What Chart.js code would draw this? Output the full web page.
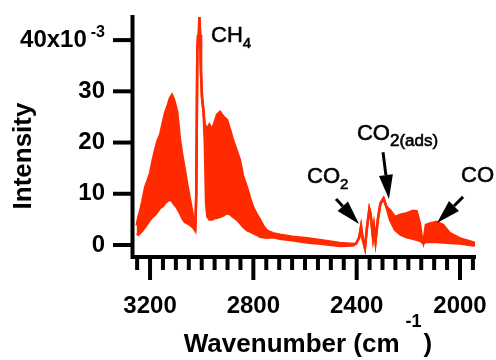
<!DOCTYPE html>
<html>
<head>
<meta charset="utf-8">
<script src="https://cdn.jsdelivr.net/npm/chart.js@4/dist/chart.umd.min.js"></script>
<style>
  html, body { margin: 0; padding: 0; background: #fff; }
  canvas { display: block; }
</style>
</head>
<body>
<canvas id="spectrum" width="496" height="360"></canvas>
<script>
// wavenumber in cm-1, intensity in units of 1e-3
// the gas phase bands are dense, so the trace is kept as an upper and a lower edge
const wavenumber = [3252, 3245, 3239, 3230, 3219, 3210, 3200, 3190, 3181, 3170, 3161, 3150, 3142, 3130, 3123, 3115, 3108, 3100, 3095, 3084, 3075, 3065, 3055, 3045, 3035, 3030, 3025,
  3021, 3017, 3014, 3012, 3009, 3006, 3003, 2999, 2993, 2988, 2983, 2978, 2970, 2960, 2950, 2940, 2929, 2915, 2902, 2890, 2879, 2865, 2852, 2840, 2825, 2812, 2801, 2787, 2774, 2760, 2747,
  2724, 2697, 2650, 2592, 2530, 2465, 2414, 2402, 2390, 2383, 2376, 2368, 2360, 2351, 2346, 2337, 2333, 2327, 2318, 2308, 2296, 2285,
  2271, 2252, 2230, 2206, 2182, 2168, 2155, 2148, 2142, 2132, 2116, 2090, 2065, 2039, 2000, 1973, 1948, 1942];
const upperEdge = [3.8, 5.5, 6.5, 8.5, 11.3, 12.5, 14.0, 16.5, 18.5, 20.5, 21.5, 24.0, 25.8, 27.5, 28.7, 29.3, 28.5, 27.0, 26.0, 20.5, 17.5, 14.6, 11.5, 8.8, 6.0, 4.5, 2.8,
  10.0, 38.0, 41.0, 39.5, 44.5, 41.0, 34.0, 29.0, 26.0, 23.5, 23.0, 22.8, 23.5, 22.5, 24.0, 25.5, 26.0, 25.0, 24.4, 22.5, 20.5, 18.5, 16.6, 13.5, 11.3, 9.0, 7.4, 6.0, 4.9, 3.6, 2.8,
  2.3, 2.0, 1.6, 1.3, 0.9, 0.4, 0.2, 0.3, 1.5, 3.6, 1.0, -0.6, 3.5, 7.0, 6.0, 1.6, 3.5, 0.7, 5.0, 8.1, 9.1, 7.5,
  6.8, 5.5, 5.9, 6.2, 6.7, 6.6, 4.2, 1.6, 0.5, 3.9, 4.2, 4.5, 3.9, 2.3, 1.3, 0.9, 0.5, 0.4];
const lowerEdge = [2.2, 2.0, 2.3, 2.8, 3.5, 4.2, 4.9, 5.5, 5.9, 6.6, 7.2, 7.6, 8.2, 8.7, 8.8, 8.6, 8.0, 7.6, 7.2, 6.2, 5.2, 4.5, 4.2, 3.9, 3.5, 3.2, 2.8,
  10.0, 38.0, 41.0, 39.5, 44.5, 41.0, 34.0, 29.0, 26.0, 20.0, 8.0, 5.5, 5.0, 5.0, 5.2, 5.3, 5.5, 5.8, 6.2, 6.0, 5.5, 5.0, 4.3, 3.6, 2.9, 2.6, 2.3, 2.0, 1.6, 1.5, 1.4,
  1.5, 1.2, 0.9, 0.5, 0.2, -0.2, -0.1, 0.3, 1.5, 3.6, 1.0, -0.6, 3.5, 7.0, 6.0, 1.6, 3.5, 0.7, 5.0, 8.1, 9.1, 7.5,
  4.9, 3.0, 2.0, 1.5, 1.2, 1.0, 0.8, 0.6, 0.3, 0.6, 0.6, 0.6, 0.5, 0.4, 0.3, 0.1, -0.1, 0.0];

const yTicks = [0, 10, 20, 30, 40];
const xTickLabels = [3200, 2800, 2400, 2000];

// peak names: [main text, subscript, wavenumber, intensity] of the text baseline start
const peakNames = [
  ["CH", "4", 2964, 39.6],
  ["CO", "2", 2592, 12.1],
  ["CO", "2(ads)", 2399, 20.5],
  ["CO", "", 1996, 12.3]
];
// arrows: from [wavenumber, intensity] to [wavenumber, intensity]
const peakArrows = [
  [2480, 9.0, 2391, 4.1],
  [2298, 18.1, 2275, 9.0],
  [1988, 9.4, 2089, 4.3]
];

const FONT = '"Liberation Sans", Arial, sans-serif';
const RED = "#ff2a00";

function drawArrow(ctx, x1, y1, x2, y2) {
  const ang = Math.atan2(y2 - y1, x2 - x1);
  const headLen = 24, headW = 7;
  const bx = x2 - headLen * Math.cos(ang), by = y2 - headLen * Math.sin(ang);
  ctx.lineWidth = 3;
  ctx.beginPath();
  ctx.moveTo(x1, y1);
  ctx.lineTo(bx, by);
  ctx.stroke();
  ctx.beginPath();
  ctx.moveTo(x2, y2);
  ctx.lineTo(bx + headW * Math.sin(ang), by - headW * Math.cos(ang));
  ctx.lineTo(bx - headW * Math.sin(ang), by + headW * Math.cos(ang));
  ctx.closePath();
  ctx.fill();
}

// slightly heavier text than the plain regular face
function heavyText(ctx, text, x, y) {
  ctx.lineWidth = 0.6;
  ctx.fillText(text, x, y);
  ctx.strokeText(text, x, y);
}

function noPadding(s) {
  s.paddingTop = 0;
  s.paddingBottom = 0;
  s.paddingLeft = 0;
  s.paddingRight = 0;
}

const igorAxes = {
  id: "igorAxes",
  afterDraw(chart) {
    const { ctx, chartArea: a, scales: { x, y } } = chart;
    ctx.save();
    ctx.strokeStyle = "#000";
    ctx.fillStyle = "#000";
    ctx.lineCap = "butt";

    // axis lines
    ctx.lineWidth = 4;
    ctx.beginPath();
    ctx.moveTo(a.left - 0.5, a.top);
    ctx.lineTo(a.left - 0.5, a.bottom + 1);
    ctx.moveTo(a.left - 2.5, a.bottom - 1);
    ctx.lineTo(a.right, a.bottom - 1);
    ctx.stroke();

    // y ticks
    yTicks.forEach(v => {
      const py = y.getPixelForValue(v);
      ctx.beginPath();
      ctx.moveTo(a.left - 20, py);
      ctx.lineTo(a.left, py);
      ctx.stroke();
    });

    // x ticks, minor every 50, major at the labels
    for (let v = 1950; v <= 3250; v += 50) {
      const px = x.getPixelForValue(v);
      const len = xTickLabels.includes(v) ? 22 : 12;
      ctx.beginPath();
      ctx.moveTo(px, a.bottom);
      ctx.lineTo(px, a.bottom + len);
      ctx.stroke();
    }

    // top y label with exponent
    const ty = y.getPixelForValue(40);
    const rightEdge = a.left - 28;
    ctx.font = "bold 16px " + FONT;
    const supW = ctx.measureText("-3").width;
    ctx.textBaseline = "middle";
    ctx.textAlign = "left";
    ctx.fillText("-3", rightEdge - supW, ty - 8);
    ctx.font = "bold 24px " + FONT;
    ctx.textAlign = "right";
    ctx.fillText("40x10", rightEdge - supW - 4, ty);

    // axis titles
    ctx.textBaseline = "alphabetic";
    ctx.textAlign = "left";
    ctx.font = "bold 26px " + FONT;
    const mainW = ctx.measureText("Wavenumber (cm").width;
    const parW = ctx.measureText(")").width;
    ctx.font = "bold 18px " + FONT;
    const expW = ctx.measureText("-1").width;
    const total = mainW + expW + parW + 8;
    const tx = 308 - total / 2;
    const base = 352;
    ctx.font = "bold 26px " + FONT;
    ctx.fillText("Wavenumber (cm", tx, base);
    ctx.font = "bold 18px " + FONT;
    ctx.fillText("-1", tx + mainW + 6, base - 25);
    ctx.font = "bold 26px " + FONT;
    ctx.fillText(")", tx + mainW + expW + 8, base);

    ctx.save();
    ctx.translate(31, 156);
    ctx.rotate(-Math.PI / 2);
    ctx.textAlign = "center";
    ctx.font = "bold 26px " + FONT;
    ctx.fillText("Intensity", 0, 0);
    ctx.restore();

    // peak names
    peakNames.forEach(([main, sub, w, v]) => {
      const px = x.getPixelForValue(w), py = y.getPixelForValue(v);
      ctx.font = "22px " + FONT;
      heavyText(ctx, main, px, py);
      if (sub) {
        const mw = ctx.measureText(main).width;
        ctx.font = (sub.length > 1 ? "17px " : "15px ") + FONT;
        heavyText(ctx, sub, px + mw, py + 6);
      }
    });

    peakArrows.forEach(([w1, v1, w2, v2]) => {
      drawArrow(ctx, x.getPixelForValue(w1), y.getPixelForValue(v1), x.getPixelForValue(w2), y.getPixelForValue(v2));
    });

    ctx.restore();
  }
};

new Chart(document.getElementById("spectrum"), {
  type: "line",
  data: {
    datasets: [
      {
        data: wavenumber.map((w, i) => ({ x: w, y: upperEdge[i] })),
        borderColor: RED,
        backgroundColor: RED,
        borderWidth: 2.5,
        pointRadius: 0,
        tension: 0,
        fill: "+1",
        clip: false
      },
      {
        data: wavenumber.map((w, i) => ({ x: w, y: lowerEdge[i] })),
        borderColor: RED,
        borderWidth: 2.5,
        pointRadius: 0,
        tension: 0,
        fill: false,
        clip: false
      }
    ]
  },
  options: {
    responsive: false,
    animation: false,
    devicePixelRatio: 1,
    layout: { padding: { top: 15, right: 20, left: 0, bottom: 0 } },
    plugins: { legend: { display: false }, tooltip: { enabled: false } },
    scales: {
      x: {
        type: "linear",
        reverse: true,
        min: 1938,
        max: 3266,
        grid: { display: false, drawTicks: false },
        border: { display: false },
        afterBuildTicks: s => { s.ticks = xTickLabels.map(v => ({ value: v })); },
        afterFit: s => { s.height = 102; noPadding(s); },
        ticks: {
          font: { family: FONT, size: 24, weight: "bold" },
          color: "#000",
          padding: 34,
          maxRotation: 0,
          autoSkip: false,
          callback: v => String(v)
        }
      },
      y: {
        type: "linear",
        min: -2.54,
        max: 44.9,
        grid: { display: false, drawTicks: false },
        border: { display: false },
        afterBuildTicks: s => { s.ticks = yTicks.map(v => ({ value: v })); },
        afterFit: s => { s.width = 133; noPadding(s); },
        ticks: {
          font: { family: FONT, size: 24, weight: "bold" },
          color: "#000",
          padding: 28,
          callback: v => (v === 40 ? "" : String(v))
        }
      }
    }
  },
  plugins: [igorAxes]
});
</script>
</body>
</html>
